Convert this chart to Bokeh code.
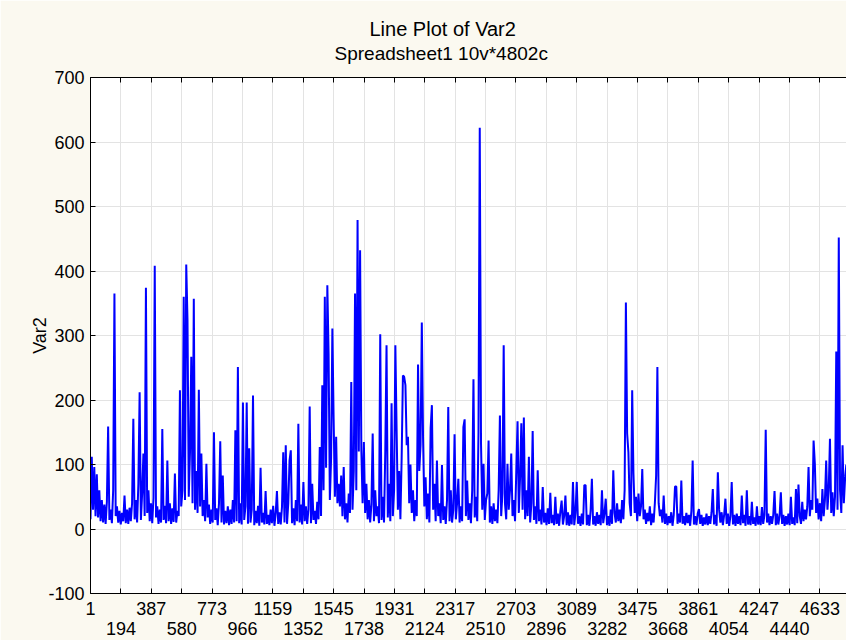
from bokeh.plotting import figure
from bokeh.models import LinearAxis, FixedTicker, Title, Range1d, ColumnDataSource
from bokeh.embed import file_html
from bokeh.resources import INLINE

title_main = "Line Plot of Var2"
title_sub = "Spreadsheet1 10v*4802c"
y_label = "Var2"

n_cases = 4802
case_step = 8
case_no = list(range(1, n_cases + 1, case_step))

var2 = [
    15, 112, 30, 96, 20, 85, 18, 60, 12, 45,
    10, 38, 8, 42, 159, 14, 30, 9, 60, 365,
    20, 35, 10, 28, 7, 25, 12, 52, 9, 30,
    8, 33, 12, 40, 171, 15, 45, 10, 70, 212,
    14, 55, 117, 20, 374, 25, 60, 12, 40, 9,
    48, 408, 18, 35, 8, 30, 10, 155, 14, 36,
    9, 106, 12, 40, 8, 32, 11, 86, 10, 28,
    20, 215, 35, 60, 360, 45, 410, 324, 50, 120,
    267, 40, 357, 30, 90, 25, 216, 35, 117, 20,
    45, 12, 101, 18, 38, 8, 30, 10, 150, 14,
    32, 6, 40, 136, 10, 83, 7, 28, 9, 35,
    6, 30, 8, 45, 10, 153, 12, 251, 9, 40,
    7, 196, 14, 35, 196, 8, 125, 10, 30, 207,
    6, 28, 9, 36, 5, 95, 10, 25, 7, 59,
    8, 22, 6, 30, 9, 36, 5, 24, 59, 8,
    26, 7, 34, 119, 10, 130, 8, 40, 106, 122,
    9, 32, 6, 45, 12, 163, 10, 38, 7, 73,
    12, 35, 8, 30, 190, 9, 70, 14, 28, 8,
    42, 15, 127, 20, 223, 60, 360, 95, 378, 272,
    45, 110, 311, 171, 50, 143, 40, 70, 35, 83,
    20, 96, 15, 40, 10, 55, 25, 228, 30, 90,
    365, 60, 479, 120, 432, 122, 40, 135, 25, 70,
    15, 45, 10, 38, 148, 12, 60, 20, 35, 9,
    302, 14, 50, 10, 120, 285, 18, 70, 12, 195,
    20, 60, 285, 154, 30, 90, 15, 110, 238, 236,
    223, 130, 143, 40, 100, 25, 60, 12, 45, 20,
    255, 90, 130, 320, 140, 35, 80, 15, 55, 10,
    156, 192, 30, 70, 12, 106, 20, 40, 9, 99,
    14, 35, 8, 45, 189, 12, 60, 10, 30, 147,
    15, 40, 78, 10, 35, 12, 158, 170, 20, 75,
    14, 40, 9, 60, 232, 18, 50, 12, 150, 622,
    132, 30, 101, 14, 45, 55, 137, 10, 35, 8,
    40, 12, 30, 9, 60, 176, 20, 55, 285, 40,
    15, 101, 30, 60, 117, 20, 45, 12, 90, 167,
    25, 80, 164, 30, 173, 15, 60, 20, 112, 10,
    40, 152, 14, 35, 8, 91, 12, 30, 7, 65,
    10, 25, 6, 32, 8, 56, 9, 22, 6, 50,
    8, 24, 5, 28, 44, 7, 20, 52, 6, 26,
    5, 22, 7, 73, 6, 25, 73, 8, 20, 5,
    24, 7, 68, 68, 6, 22, 5, 28, 78, 7,
    20, 5, 26, 8, 22, 6, 60, 9, 24, 47,
    6, 20, 5, 30, 8, 91, 25, 10, 40, 12,
    30, 9, 45, 15, 60, 351, 148, 119, 40, 20,
    215, 86, 25, 50, 12, 55, 20, 35, 93, 15,
    30, 8, 25, 12, 35, 6, 24, 10, 40, 83,
    251, 40, 20, 30, 10, 52, 8, 24, 6, 20,
    9, 26, 5, 22, 66, 66, 8, 24, 10, 75,
    8, 20, 6, 25, 9, 22, 5, 28, 106, 7,
    20, 6, 24, 31, 8, 22, 5, 18, 7, 24,
    6, 20, 8, 26, 62, 7, 22, 5, 88, 30,
    10, 26, 6, 22, 47, 8, 24, 5, 20, 73,
    7, 22, 5, 24, 8, 20, 6, 52, 9, 22,
    5, 60, 7, 20, 6, 42, 8, 18, 5, 35,
    7, 20, 6, 34, 8, 22, 154, 10, 24, 6,
    20, 8, 22, 59, 6, 24, 7, 20, 57, 8,
    22, 5, 20, 7, 24, 6, 50, 8, 18, 6,
    62, 9, 69, 20, 8, 42, 12, 30, 15, 35,
    96, 20, 45, 30, 137, 101, 25, 47, 15, 40,
    12, 62, 20, 45, 106, 30, 60, 140, 25, 57,
    20, 50, 275, 30, 452, 60, 25, 130, 40, 78,
    100,
]

x_ticks_row1 = [1, 387, 773, 1159, 1545, 1931, 2317, 2703, 3089, 3475, 3861, 4247, 4633]
x_ticks_row2 = [194, 580, 966, 1352, 1738, 2124, 2510, 2896, 3282, 3668, 4054, 4440]
y_ticks = [-100, 0, 100, 200, 300, 400, 500, 600, 700]

assert len(var2) == len(case_no)

FONT = "Liberation Sans"
BG = "#fbf9f0"
GRID = "#e3e3e3"

src = ColumnDataSource(data=dict(case=case_no, var2=var2))

p = figure(width=846, height=640, output_backend="svg", toolbar_location=None,
           x_range=Range1d(1, n_cases), y_range=Range1d(-100, 700),
           title_location=None,
           min_border_left=90, min_border_right=0, min_border_top=77, min_border_bottom=47)
p.background_fill_color = "#ffffff"
p.border_fill_color = BG
p.outline_line_color = None

p.line("case", "var2", source=src, line_color="#0000ff", line_width=2)

# grids
all_x_ticks = sorted(x_ticks_row1 + x_ticks_row2)
p.xgrid.ticker = FixedTicker(ticks=all_x_ticks)
p.ygrid.ticker = FixedTicker(ticks=y_ticks)
p.xgrid.grid_line_color = GRID
p.ygrid.grid_line_color = GRID

# bottom axis, first row
xa = p.xaxis[0]
xa.ticker = FixedTicker(ticks=x_ticks_row1, minor_ticks=x_ticks_row2)
xa.major_tick_in = 5
xa.major_tick_out = 0
xa.minor_tick_in = 5
xa.minor_tick_out = 0
xa.minor_tick_line_color = "black"
xa.major_tick_line_color = "black"
xa.axis_line_color = "black"
xa.major_label_text_font = FONT
xa.major_label_text_font_size = "18px"
xa.major_label_text_color = "black"
xa.major_label_standoff = 8

# bottom axis, second row
xa2 = LinearAxis(ticker=FixedTicker(ticks=x_ticks_row2, minor_ticks=[]))
xa2.axis_line_color = None
xa2.major_tick_line_color = None
xa2.minor_tick_line_color = None
xa2.major_tick_in = 0
xa2.major_tick_out = 0
xa2.major_label_text_font = FONT
xa2.major_label_text_font_size = "18px"
xa2.major_label_text_color = "black"
xa2.major_label_standoff = 4
p.add_layout(xa2, "below")

# top border with ticks only (minor ticks carry no labels)
xt = LinearAxis(ticker=FixedTicker(ticks=[], minor_ticks=all_x_ticks))
xt.minor_tick_in = 5
xt.minor_tick_out = 0
xt.major_tick_out = 0
xt.minor_tick_line_color = "black"
xt.major_tick_line_color = None
p.add_layout(xt, "above")

# left axis
ya = p.yaxis[0]
ya.ticker = FixedTicker(ticks=y_ticks, minor_ticks=[])
ya.major_label_overrides = {-100: "-100"}
ya.major_tick_in = 5
ya.major_tick_out = 0
ya.minor_tick_line_color = None
ya.major_label_text_font = FONT
ya.major_label_text_font_size = "18px"
ya.major_label_text_color = "black"
ya.major_label_standoff = 6
ya.axis_label = y_label
ya.axis_label_text_font = FONT
ya.axis_label_text_font_size = "18px"
ya.axis_label_text_font_style = "normal"
ya.axis_label_text_color = "black"
ya.axis_label_standoff = -5

# titles
t_sub = Title(text=title_sub, align="left", offset=244, text_font=FONT, vertical_align="top",
              text_font_size="19px", text_font_style="normal", text_color="black", standoff=23)
p.add_layout(t_sub, "above")
t_main = Title(text=title_main, align="left", offset=279, text_font=FONT, vertical_align="top",
               text_font_size="20px", text_font_style="normal", text_color="black", standoff=-28)
p.add_layout(t_main, "above")

open("out.html", "w").write(file_html(p, INLINE))
